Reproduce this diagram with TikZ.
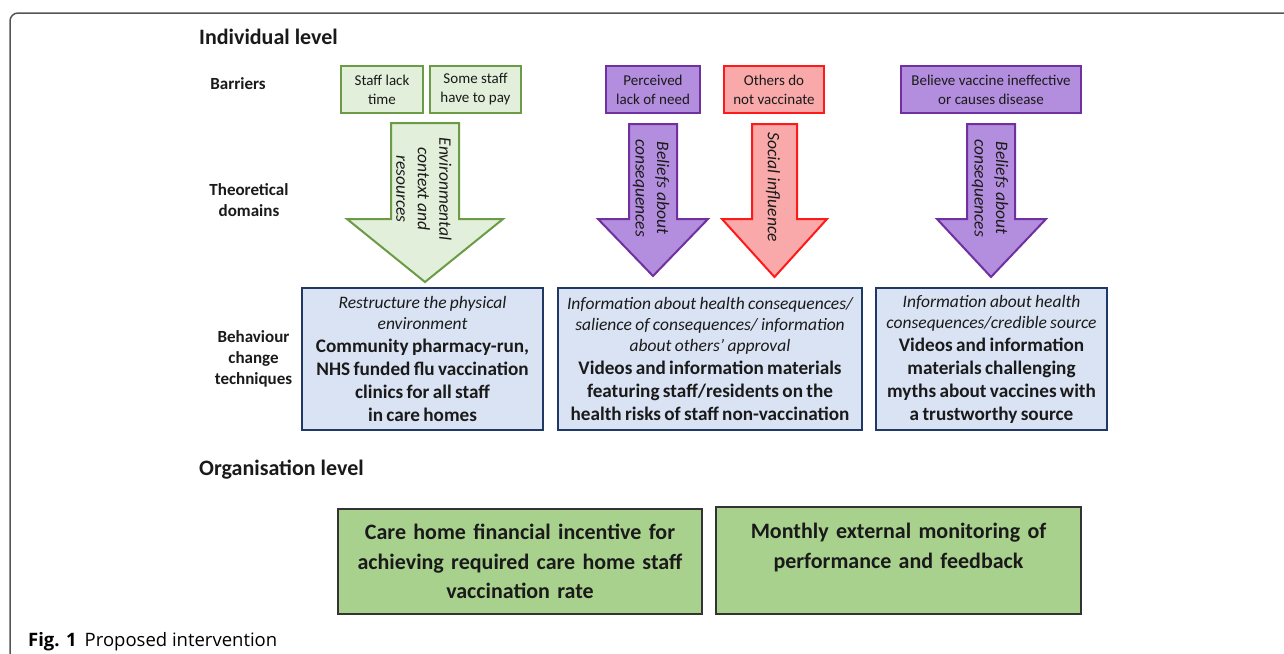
\documentclass[tikz,border=0pt]{standalone}
\usepackage{fontspec}
\setmainfont{Carlito}
\newfontfamily\capfont{Open Sans}
\definecolor{txt}{HTML}{1A1A1A}
\definecolor{gfill}{HTML}{E2EFDA}
\definecolor{gbord}{HTML}{6B9B45}
\definecolor{pfill}{HTML}{B38DDE}
\definecolor{pbord}{HTML}{7030A0}
\definecolor{rfill}{HTML}{F9A9A9}
\definecolor{rbord}{HTML}{FF1A1A}
\definecolor{bfill}{HTML}{DAE3F3}
\definecolor{bbord}{HTML}{1F3864}
\definecolor{ofill}{HTML}{A9D18E}
\definecolor{obord}{HTML}{333333}
\definecolor{frame}{HTML}{555555}
\begin{document}
\begin{tikzpicture}[x=1pt,y=-1pt,
  lbl/.style={font=\fontsize{17}{21}\selectfont\bfseries, text=txt, align=center, inner sep=0},
  head/.style={font=\fontsize{22}{26}\selectfont\bfseries, text=txt, inner sep=0, anchor=base west},
  barrier/.style={line width=2pt, minimum height=47pt, inner sep=0, align=center, font=\fontsize{15}{19}\selectfont, text=txt},
  gbar/.style={barrier, draw=gbord, fill=gfill},
  pbar/.style={barrier, draw=pbord, fill=pfill},
  rbar/.style={barrier, draw=rbord, fill=rfill},
  garrow/.style={draw=gbord, fill=gfill, line width=2pt, line join=miter},
  parrow/.style={draw=pbord, fill=pfill, line width=2pt, line join=miter},
  rarrow/.style={draw=rbord, fill=rfill, line width=2pt, line join=miter},
  atext/.style={rotate=-90, font=\fontsize{17.5}{21.5}\selectfont\itshape, text=txt, align=center, inner sep=0},
  bct/.style={draw=bbord, fill=bfill, line width=2.5pt, minimum height=142pt, inner sep=0, align=center, text=txt},
  org/.style={draw=obord, fill=ofill, line width=1.5pt, inner sep=0, align=center, text=txt, font=\fontsize{22}{29.5}\selectfont\bfseries}
]
\useasboundingbox (0,0) rectangle (1284,653);
\clip (0,0) rectangle (1284,653);
\fill[white] (0,0) rectangle (1284,653);
\draw[frame, line width=1.5pt, rounded corners=8pt] (10,13) rectangle (1300,670);

% headings
\node[head] (indiv) at (199,44) {Individual level};
\node[head] (orgl) at (199,475) {Organisation level};
\node[lbl] (barr) at (238,84) {Barriers};
\node[lbl] (theo) at (249,200) {Theoretical\\domains};
\node[lbl] (bctl) at (253.5,359) {Behaviour\\change\\techniques};

% barriers
\node[gbar, minimum width=82pt] (b1) at (382,89.5) {Staff lack\\time};
\node[gbar, minimum width=91pt] (b2) at (475.5,89.5) {Some staff\\have to pay};
\node[pbar, minimum width=94pt] (b3) at (653,89.5) {Perceived\\lack of need};
\node[rbar, minimum width=100pt] (b4) at (774,89.5) {Others do\\not vaccinate};
\node[pbar, minimum width=180pt] (b5) at (991,89.5) {Believe vaccine ineffective\\or causes disease};

% arrows
\draw[garrow] (391,123) -- (459,123) -- (459,219) -- (503,219) -- (425,282) -- (347,219) -- (391,219) -- cycle;
\draw[parrow] (629,124) -- (677,124) -- (677,219) -- (708,219) -- (653,276) -- (598,219) -- (629,219) -- cycle;
\draw[rarrow] (752,124) -- (797,124) -- (797,219) -- (827,219) -- (774.5,277) -- (722,219) -- (752,219) -- cycle;
\draw[parrow] (967,124) -- (1015,124) -- (1015,219) -- (1046,219) -- (991,277) -- (937,219) -- (967,219) -- cycle;

\node[atext] (a1) at (424,189) {Environmental\\context and\\resources};
\node[atext] (a2) at (651,188) {Beliefs about\\consequences};
\node[atext] (a3) at (773,187) {Social influence};
\node[atext] (a4) at (990,188) {Beliefs about\\consequences};

% behaviour change techniques
\node[bct, text width=241pt] (t1) at (422.5,359) {%
  {\fontsize{17.5}{21}\selectfont\itshape Restructure the physical\\environment\par}%
  {\fontsize{19.2}{23}\selectfont\bfseries Community pharmacy-run,\\NHS funded flu vaccination\\clinics for all staff\\in care homes\par}};
\node[bct, text width=304pt] (t2) at (710,359) {%
  {\fontsize{17.5}{21}\selectfont\itshape Information about health consequences/\\salience of consequences/ information\\about others’ approval\par}%
  {\fontsize{19.2}{23}\selectfont\bfseries Videos and information materials\\featuring staff/residents on the\\health risks of staff non-vaccination\par}};
\node[bct, text width=231pt] (t3) at (991.5,359) {%
  {\fontsize{17.5}{21}\selectfont\itshape Information about health\\consequences/credible source\par}%
  {\fontsize{19.2}{23}\selectfont\bfseries Videos and information\\materials challenging\\myths about vaccines with\\a trustworthy source\par}};

% organisation level
\node[org, text width=364pt, minimum height=105pt] (o1) at (520,561.5) {Care home financial incentive for\\achieving required care home staff\\vaccination rate};
\node[org, text width=365pt, minimum height=107pt] (o2) at (898.5,560.5) {Monthly external monitoring of\\performance and feedback\\\mbox{}};

% caption
\node[anchor=base west, inner sep=0, font=\capfont\fontsize{18.5}{22}\selectfont] (cap) at (28,646) {\textbf{Fig. 1}\hspace{8pt}Proposed intervention};
\end{tikzpicture}
\end{document}
